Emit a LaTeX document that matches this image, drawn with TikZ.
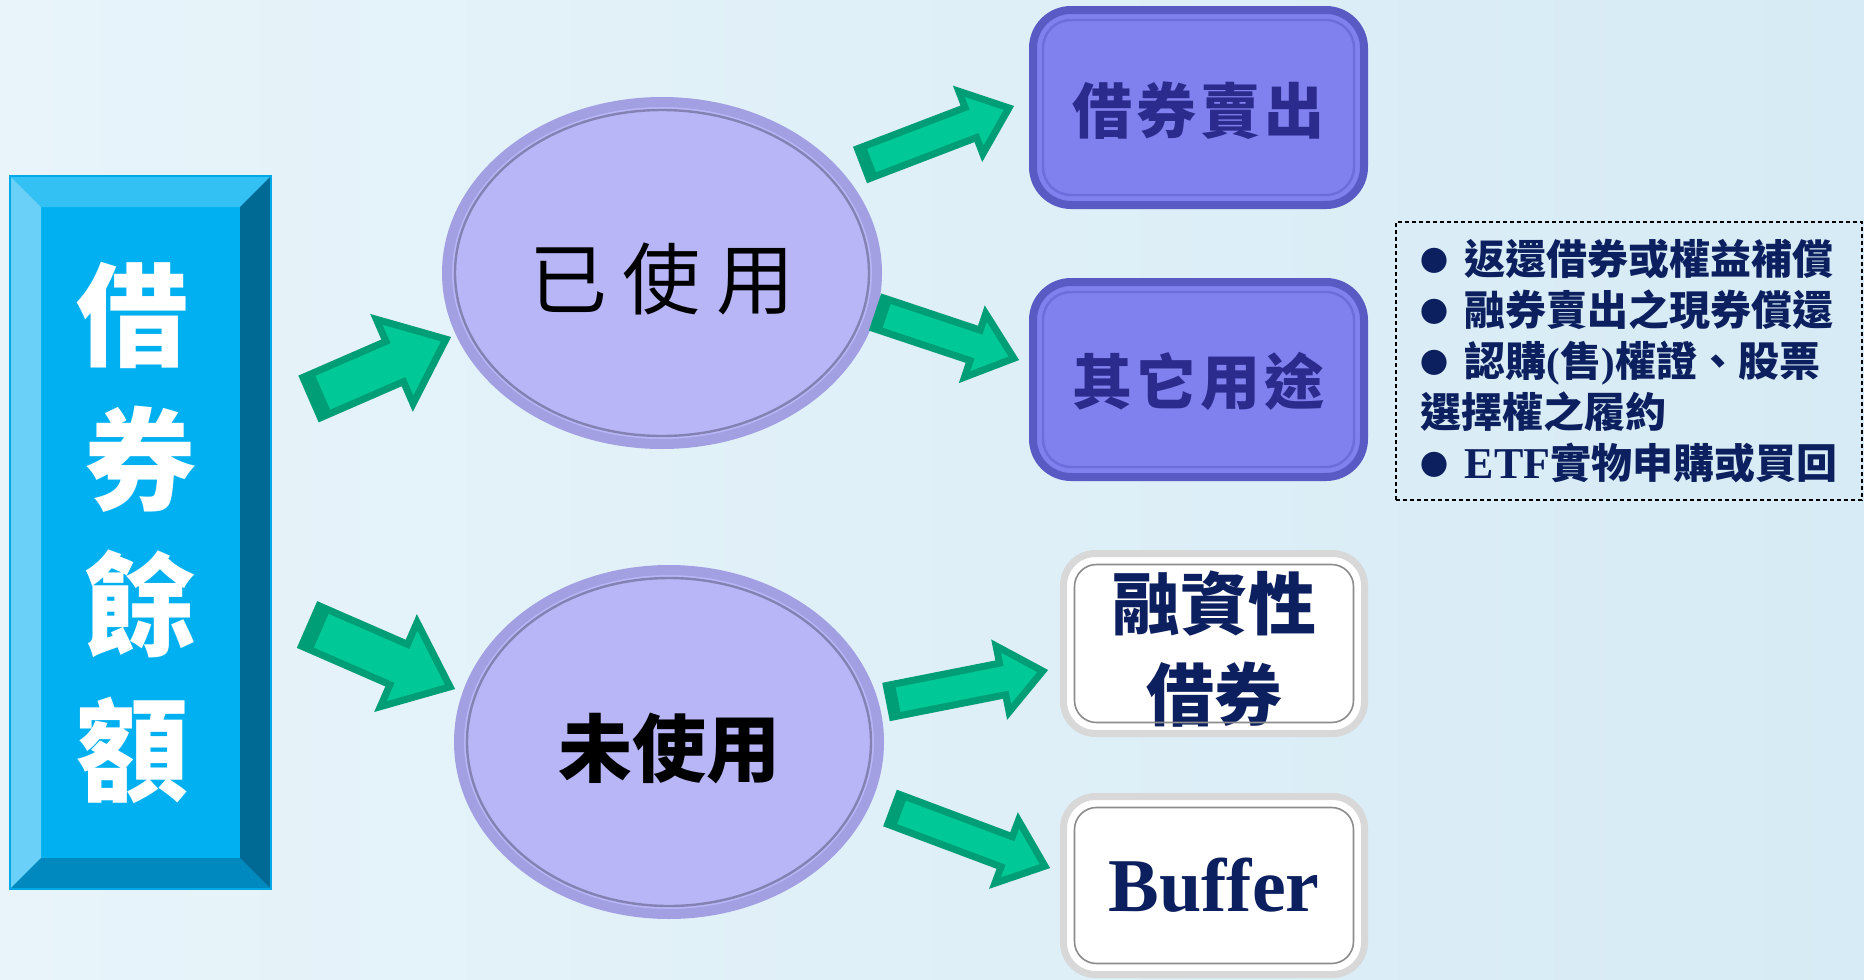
\documentclass[tikz,border=0pt]{standalone}
\usepackage{fontspec}
\setmainfont{Liberation Serif}
\newfontfamily\cjk{Noto Sans CJK TC}
\usetikzlibrary{calc,shapes.geometric}
\definecolor{bgA}{HTML}{E8F4FA}
\definecolor{bgB}{HTML}{D6EBF5}
\definecolor{boxmain}{HTML}{00B0F0}
\definecolor{boxtop}{HTML}{33C0F2}
\definecolor{boxleft}{HTML}{6BD0F7}
\definecolor{boxright}{HTML}{006A94}
\definecolor{boxbot}{HTML}{0089BE}
\definecolor{boxedge}{HTML}{00A8E8}
\definecolor{lav}{HTML}{B8B6F6}
\definecolor{lavring}{HTML}{A29FE2}
\definecolor{lavline}{HTML}{8482B2}
\definecolor{purp}{HTML}{8080EE}
\definecolor{purpring}{HTML}{5A5AC4}
\definecolor{purpin}{HTML}{6C6CDA}
\definecolor{purptext}{HTML}{2B2B8E}
\definecolor{wring}{HTML}{D8D8D8}
\definecolor{navy}{HTML}{0C1F5E}
\definecolor{gfill}{HTML}{00C896}
\definecolor{gdark}{HTML}{009E76}
\newcommand\cgap{\hspace{2pt}}
\newcommand\lowr[2]{\raisebox{-#1}[\height][\depth]{#2}}
\newcommand\nbul{{\raisebox{1.5pt}{\fontsize{14}{14}\selectfont●}}\hspace{8pt}}
\newcommand\garrow[4]{%
  \pgfmathsetlengthmacro\gsw{11pt*#4}%
  \pgfmathsetlengthmacro\ghw{23pt*#4}%
  \pgfmathsetlengthmacro\ghl{28pt*#4}%
  \pgfmathsetlengthmacro\gdk{6pt*#4}%
  \coordinate (#1-a) at ($(#2)!1.75pt!(#3)$);
  \coordinate (#1-b) at ($(#3)!2.7pt!(#2)$);
  \coordinate (#1-h) at ($(#1-b)!\ghl!(#1-a)$);
  \coordinate (#1-d) at ($(#1-a)!\gdk!(#1-b)$);
  \filldraw[blockarrow] ($(#1-a)!\gsw!90:(#1-b)$) -- ($(#1-h)!\gsw!90:(#1-b)$)
    -- ($(#1-h)!\ghw!90:(#1-b)$) -- (#1-b) -- ($(#1-h)!\ghw!-90:(#1-b)$)
    -- ($(#1-h)!\gsw!-90:(#1-b)$) -- ($(#1-a)!\gsw!-90:(#1-b)$) -- cycle;
  \fill[gdark] ($(#1-a)!\gsw!90:(#1-b)$) -- ($(#1-d)!\gsw!90:(#1-b)$)
    -- ($(#1-d)!\gsw!-90:(#1-b)$) -- ($(#1-a)!\gsw!-90:(#1-b)$) -- cycle;
}
\begin{document}
\begin{tikzpicture}[x=0.5pt,y=-0.5pt,
  bluebox/.style={rectangle, fill=boxmain, inner sep=0pt, outer sep=0pt,
    minimum width=130.5pt, minimum height=356.5pt, text=white, align=center,
    font=\cjk\bfseries\fontsize{56}{72.5}\selectfont},
  useell/.style={ellipse, fill=lav, draw=lavring, line width=5pt, inner sep=0pt,
    outer sep=0pt, text=black},
  ellline/.style={draw=lavline, line width=1.2pt},
  purpbox/.style={rectangle, rounded corners=19pt, fill=purp, draw=purpring,
    line width=4pt, minimum width=165.5pt, minimum height=97.5pt, inner sep=0pt,
    outer sep=0pt, text=purptext, font=\cjk\bfseries\fontsize{30}{30}\selectfont},
  purpinner/.style={draw=purpin, line width=1.2pt, rounded corners=14pt},
  whitebox/.style={rectangle, rounded corners=16pt, fill=white, draw=wring,
    line width=3.5pt, minimum width=150.5pt, inner sep=0pt, outer sep=0pt,
    text=navy, align=center},
  whiteinner/.style={draw=black!45, line width=0.8pt, rounded corners=11pt},
  notes/.style={rectangle, draw=black, line width=0.8pt,
    dash pattern=on 2pt off 1.5pt, minimum width=233pt, minimum height=139pt,
    inner sep=0pt, outer sep=0pt, align=left, text=navy,
    font=\cjk\bfseries\fontsize{20.5}{25.5}\selectfont},
  blockarrow/.style={fill=gfill, draw=gdark, line width=3.5pt, line join=miter}]
\useasboundingbox (0,0) rectangle (1864,980);
\shade[left color=bgA, right color=bgB] (0,0) rectangle (1864,980);

% left bevelled box
\node[bluebox] (total) at (140.5,532.5)
  {借\hspace*{8pt}\\券\hspace*{8pt}\\餘\hspace*{8pt}\\額\hspace*{8pt}};
\fill[boxtop] (total.north west) -- (total.north east) -- ($(total.north east)+(-31,31)$)
  -- ($(total.north west)+(31,31)$) -- cycle;
\fill[boxleft] (total.north west) -- ($(total.north west)+(31,31)$)
  -- ($(total.south west)+(31,-31)$) -- (total.south west) -- cycle;
\fill[boxright] (total.north east) -- (total.south east) -- ($(total.south east)+(-31,-31)$)
  -- ($(total.north east)+(-31,31)$) -- cycle;
\fill[boxbot] (total.south west) -- ($(total.south west)+(31,-31)$)
  -- ($(total.south east)+(-31,-31)$) -- (total.south east) -- cycle;
\draw[boxedge, line width=1pt] (total.north west) rectangle (total.south east);

% ellipses
\node[useell, minimum width=215pt, minimum height=171pt,
  font=\cjk\fontsize{39}{39}\selectfont] (used) at (662,273)
  {\lowr{3pt}{已\hspace{8pt}使\hspace{8pt}用}};
\draw[ellline] (used.center) ellipse [x radius=103.5pt, y radius=81.5pt];
\node[useell, minimum width=210pt, minimum height=172pt,
  font=\cjk\bfseries\fontsize{37}{37}\selectfont] (unused) at (669,742)
  {\lowr{3pt}{未使用}};
\draw[ellline] (unused.center) ellipse [x radius=101pt, y radius=82pt];

% purple boxes
\node[purpbox] (sell) at (1198.5,107.5) {\lowr{1.5pt}{借\cgap 券\cgap 賣\cgap 出}};
\draw[purpinner] ($(sell.north west)+(10,10)$) rectangle ($(sell.south east)+(-10,-10)$);
\node[purpbox] (other) at (1198.5,379.5) {\lowr{1pt}{其\cgap 它\cgap 用\cgap 途}};
\draw[purpinner] ($(other.north west)+(10,10)$) rectangle ($(other.south east)+(-10,-10)$);

% white boxes
\node[whitebox, minimum height=90pt,
  font=\cjk\bfseries\fontsize{34}{45.5}\selectfont] (fin) at (1214,643.5)
  {\lowr{3pt}{融資性}\\\lowr{3pt}{借券}};
\draw[whiteinner] ($(fin.north west)+(11,11)$) rectangle ($(fin.south east)+(-11,-11)$);
\node[whitebox, minimum height=89pt,
  font=\bfseries\fontsize{38}{38}\selectfont] (buf) at (1214,885.5) {Buffer};
\draw[whiteinner] ($(buf.north west)+(11,11)$) rectangle ($(buf.south east)+(-11,-11)$);

% notes
\node[notes] (notes) at (1629,361) {%
\nbul 返還借券或權益補償\\
\nbul 融券賣出之現券償還\\
\nbul 認購{\rmfamily(}售{\rmfamily)}權證、股票\\
選擇權之履約\\
\nbul {\rmfamily\fontsize{22}{25.5}\selectfont ETF}實物申購或買回};

% arrows
\coordinate (a1s) at (308.5,399); \coordinate (a1e) at (451,337);
\coordinate (a2s) at (307,624.5); \coordinate (a2e) at (455,689);
\coordinate (a3s) at (860,165);   \coordinate (a3e) at (1014,106);
\coordinate (a4s) at (875,312);   \coordinate (a4e) at (1019,360);
\coordinate (a5s) at (886,702);   \coordinate (a5e) at (1048,670);
\coordinate (a6s) at (890,808);   \coordinate (a6e) at (1050,868);
\garrow{a1}{a1s}{a1e}{1}
\garrow{a2}{a2s}{a2e}{1}
\garrow{a3}{a3s}{a3e}{0.73}
\garrow{a4}{a4s}{a4e}{0.73}
\garrow{a5}{a5s}{a5e}{0.73}
\garrow{a6}{a6s}{a6e}{0.73}
\end{tikzpicture}
\end{document}
